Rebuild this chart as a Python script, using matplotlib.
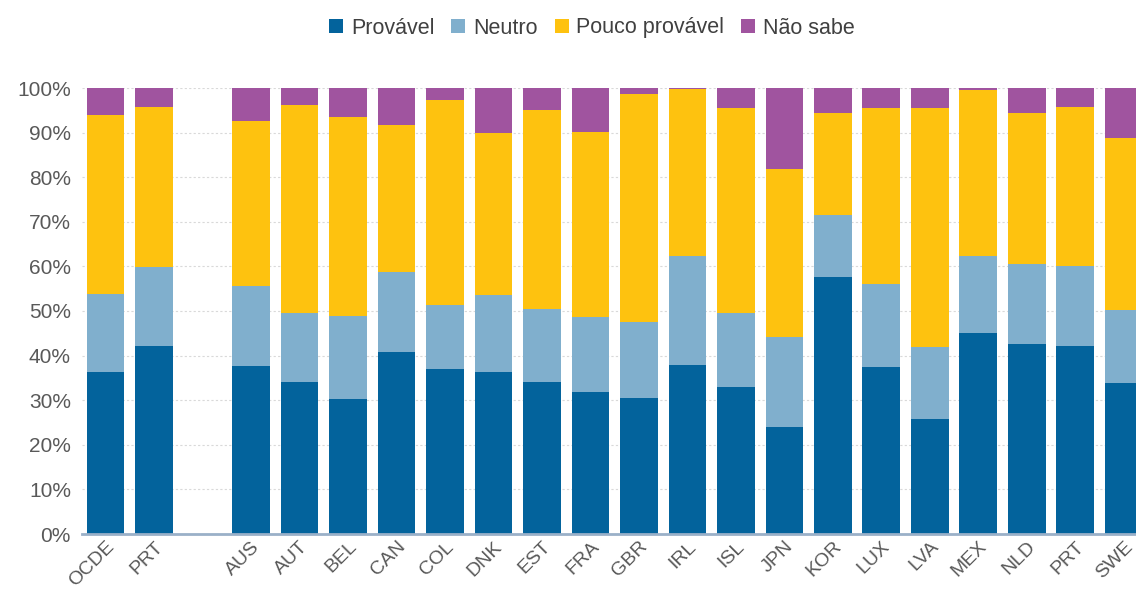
import matplotlib
matplotlib.use("Agg")
import matplotlib.pyplot as plt
import numpy as np
from matplotlib.patches import Patch
from matplotlib.ticker import FuncFormatter, MultipleLocator

# values in %; "" is the empty slot between groups
countries = ["OCDE", "PRT", "", "AUS", "AUT", "BEL", "CAN", "COL", "DNK", "EST",
             "FRA", "GBR", "IRL", "ISL", "JPN", "KOR", "LUX", "LVA", "MEX",
             "NLD", "PRT", "SWE"]
provavel = [36.3, 42.1, 0, 37.6, 34.0, 30.2, 40.9, 36.9, 36.3, 34.0, 31.8, 30.4,
            37.9, 33.0, 24.0, 57.7, 37.4, 25.8, 45.0, 42.5, 42.2, 33.8]
neutro = [17.5, 17.8, 0, 18.0, 15.6, 18.6, 17.8, 14.5, 17.2, 16.4, 16.9, 17.2,
          24.4, 16.5, 20.2, 13.8, 18.7, 16.1, 17.3, 18.1, 17.8, 16.5]
pouco = [40.1, 35.8, 0, 36.9, 46.7, 44.6, 33.0, 45.8, 36.5, 44.7, 41.4, 51.1,
         37.4, 46.0, 37.6, 22.8, 39.4, 53.7, 37.3, 33.9, 35.7, 38.5]
nao_sabe = [100 - a - b - c if a else 0 for a, b, c in zip(provavel, neutro, pouco)]

series = [("Provável", provavel, "#03639c"),
          ("Neutro", neutro, "#80afcd"),
          ("Pouco provável", pouco, "#fec20f"),
          ("Não sabe", nao_sabe, "#a0549f")]

plt.rcParams["font.family"] = ["Liberation Sans Narrow", "Liberation Sans", "DejaVu Sans"]

fig = plt.figure(figsize=(11.36, 5.91), dpi=100)
ax = fig.add_axes([82 / 1136, 57 / 591, 1054 / 1136, 446 / 591])

x = np.arange(len(countries))
bottom = np.zeros(len(countries))
for name, vals, col in series:
    vals = np.array(vals, dtype=float)
    ax.bar(x, vals, 0.78, bottom=bottom, color=col, zorder=3)
    bottom += vals

ax.set_xlim(-0.485, 21.25)
ax.set_ylim(0, 100)
ax.yaxis.set_major_locator(MultipleLocator(10))
ax.yaxis.set_major_formatter(FuncFormatter(lambda v, p: f"{v:.0f}%"))
ax.grid(axis="y", color="#d9d9d9", linestyle=(0, (2, 2)), linewidth=0.8, zorder=0)

for s in ["top", "right", "left"]:
    ax.spines[s].set_visible(False)
ax.spines["bottom"].set_color("#9ab0c8")
ax.spines["bottom"].set_linewidth(2)
ax.spines["bottom"].set_zorder(4)

ax.tick_params(axis="y", length=0, labelsize=15, labelcolor="#595959", pad=8)
ax.tick_params(axis="x", length=0, labelsize=14, labelcolor="#595959", pad=3)
ax.set_xticks(x)
ax.set_xticklabels(countries, rotation=45, ha="right", rotation_mode="anchor")

handles = [Patch(facecolor=c, label=n) for n, _, c in series]
fig.legend(handles=handles, loc="center", bbox_to_anchor=(592 / 1136, 1 - 28 / 591),
           ncol=4, frameon=False, fontsize=15.5, handlelength=0.65, handleheight=0.65,
           handletextpad=0.35, columnspacing=0.8, labelcolor="#404040")

fig.savefig("out.png", dpi=100)
